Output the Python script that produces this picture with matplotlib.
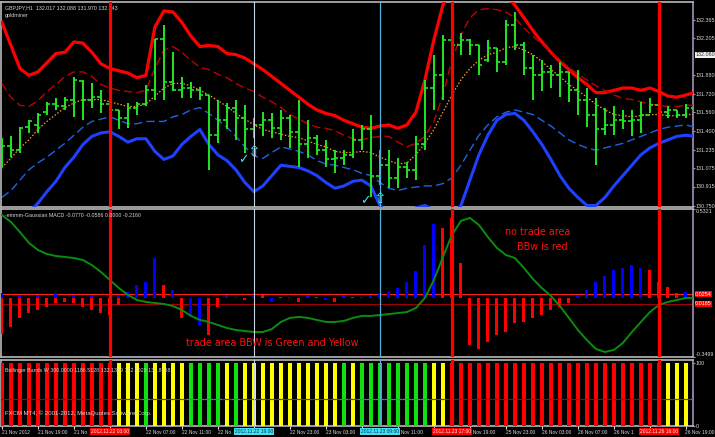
import matplotlib
matplotlib.use('Agg')
import matplotlib.pyplot as plt
import numpy as np

SMALL = ['Liberation Sans', 'DejaVu Sans']
plt.rcParams['font.family'] = SMALL

# ---------------- data ----------------
high = [131.34,131.35,131.43,131.49,131.55,131.65,131.68,131.69,131.87,131.84,
        131.81,131.75,131.71,131.58,131.64,131.65,131.80,132.20,132.32,132.08,
        131.87,131.82,131.78,131.71,131.67,131.64,131.67,131.62,131.51,131.56,
        131.55,131.58,131.54,131.67,131.49,131.36,131.32,131.23,131.23,131.41,
        131.45,131.54,131.23,131.23,131.16,131.13,131.35,131.84,132.06,132.23,
        132.27,132.25,132.20,132.14,132.19,132.12,132.36,132.43,132.17,132.06,
        132.01,131.97,132.00,131.91,131.93,131.77,131.68,131.60,131.61,131.58,
        131.58,131.65,131.68,131.65,131.61,131.58,131.63,131.67]
low = [131.08,131.17,131.21,131.38,131.38,131.54,131.58,131.58,131.52,131.49,
       131.60,131.55,131.54,131.41,131.42,131.54,131.61,131.67,131.67,131.74,
       131.68,131.68,131.67,131.06,131.29,131.41,131.32,131.21,131.34,131.35,
       131.34,131.32,131.25,131.08,131.16,131.19,131.08,131.03,131.10,131.16,
       131.23,130.82,130.93,130.90,130.90,130.99,130.97,131.23,131.58,131.67,
       132.01,132.06,132.06,131.88,132.00,131.91,131.97,132.10,131.88,131.67,
       131.74,131.77,131.69,131.65,131.54,131.43,131.10,131.36,131.36,131.41,
       131.35,131.38,131.55,131.48,131.51,131.51,131.51,131.42]
open_ = [131.16,131.27,131.23,131.43,131.45,131.56,131.63,131.61,131.67,131.83,
         131.67,131.69,131.63,131.58,131.51,131.60,131.63,131.75,132.20,131.82,
         131.75,131.77,131.75,131.71,131.36,131.49,131.60,131.51,131.41,131.45,
         131.49,131.42,131.51,131.39,131.28,131.34,131.23,131.15,131.16,131.19,
         131.32,131.41,131.01,131.10,130.99,131.08,131.06,131.28,131.77,131.88,
         132.19,132.14,132.19,132.14,132.01,132.12,132.00,132.32,132.14,131.94,
         131.88,131.91,131.88,131.91,131.75,131.67,131.54,131.41,131.45,131.49,
         131.48,131.49,131.54,131.62,131.56,131.58,131.54,131.60]
close = [131.27,131.23,131.42,131.48,131.54,131.63,131.61,131.67,131.84,131.67,
         131.69,131.63,131.58,131.51,131.60,131.63,131.75,132.20,131.82,131.75,
         131.77,131.75,131.71,131.36,131.49,131.60,131.51,131.41,131.45,131.49,
         131.42,131.51,131.39,131.28,131.34,131.23,131.15,131.16,131.19,131.32,
         131.41,131.01,131.10,130.99,131.08,131.06,131.28,131.77,131.88,132.19,
         132.14,132.19,132.14,131.97,132.12,132.00,132.32,132.14,131.94,131.88,
         131.91,131.88,131.91,131.75,131.67,131.54,131.41,131.45,131.49,131.48,
         131.49,131.54,131.62,131.56,131.58,131.54,131.60,131.54]

bb_upper_outer = [132.34,132.14,131.94,131.88,131.91,131.99,132.07,132.08,132.17,132.16,
                  132.08,131.98,131.94,131.92,131.90,131.86,131.88,132.30,132.44,132.43,
                  132.34,132.22,132.13,132.14,132.13,132.07,132.06,132.03,131.98,131.93,
                  131.87,131.81,131.75,131.69,131.63,131.58,131.55,131.53,131.49,131.46,
                  131.43,131.42,131.44,131.45,131.42,131.45,131.56,131.84,132.19,132.49,
                  132.71,132.79,132.79,132.71,132.62,132.58,132.58,132.49,132.38,132.27,
                  132.17,132.08,132.00,131.93,131.86,131.80,131.73,131.73,131.75,131.77,
                  131.77,131.75,131.77,131.74,131.70,131.69,131.71,131.73]
bb_upper_inner = [131.81,131.69,131.62,131.61,131.66,131.74,131.80,131.87,131.91,131.91,
                  131.87,131.80,131.77,131.75,131.74,131.73,131.75,131.94,132.10,132.13,
                  132.08,132.01,131.95,131.93,131.89,131.86,131.81,131.77,131.74,131.69,
                  131.65,131.60,131.54,131.50,131.46,131.43,131.42,131.40,131.36,131.33,
                  131.32,131.34,131.35,131.35,131.30,131.26,131.29,131.35,131.48,131.71,
                  132.01,132.23,132.38,132.45,132.46,132.45,132.43,132.38,132.29,132.22,
                  132.15,132.08,132.01,131.95,131.89,131.84,131.79,131.75,131.71,131.68,
                  131.67,131.65,131.63,131.62,131.61,131.61,131.62,131.62]
bb_middle = [131.08,131.16,131.25,131.32,131.41,131.48,131.54,131.60,131.64,131.67,
             131.67,131.67,131.65,131.63,131.61,131.61,131.63,131.70,131.77,131.81,
             131.81,131.79,131.75,131.71,131.66,131.61,131.55,131.50,131.45,131.41,
             131.39,131.37,131.35,131.34,131.31,131.28,131.26,131.22,131.21,131.21,
             131.22,131.21,131.17,131.14,131.11,131.12,131.19,131.29,131.41,131.56,
             131.71,131.84,131.94,132.01,132.06,132.08,132.12,132.13,132.10,132.06,
             132.00,131.93,131.87,131.80,131.75,131.69,131.63,131.58,131.54,131.53,
             131.52,131.53,131.54,131.54,131.53,131.53,131.54,131.54]
bb_lower_inner = [130.82,130.88,130.97,131.06,131.12,131.17,131.23,131.29,131.36,131.43,
                  131.48,131.50,131.52,131.49,131.46,131.46,131.48,131.48,131.48,131.52,
                  131.54,131.58,131.60,131.55,131.49,131.43,131.35,131.26,131.18,131.16,
                  131.21,131.26,131.24,131.22,131.19,131.14,131.11,131.10,131.08,131.06,
                  131.03,131.01,130.95,130.90,130.88,130.90,130.91,130.92,130.92,130.94,
                  130.99,131.10,131.23,131.36,131.45,131.52,131.56,131.58,131.56,131.54,
                  131.49,131.44,131.38,131.32,131.28,131.25,131.23,131.25,131.27,131.29,
                  131.32,131.35,131.38,131.41,131.43,131.44,131.45,131.43]
bb_lower_outer = [130.36,130.45,130.56,130.69,130.77,130.87,130.96,131.08,131.17,131.28,
                  131.35,131.38,131.39,131.35,131.30,131.33,131.33,131.22,131.15,131.18,
                  131.28,131.35,131.41,131.28,131.19,131.14,131.06,130.95,130.87,130.92,
                  131.01,131.10,131.09,131.08,131.05,131.01,130.95,130.90,130.92,130.96,
                  130.97,130.92,130.75,130.67,130.67,130.69,130.73,130.75,130.71,130.67,
                  130.67,130.75,130.97,131.19,131.36,131.49,131.54,131.55,131.49,131.39,
                  131.28,131.15,131.01,130.90,130.82,130.75,130.75,130.82,130.92,131.01,
                  131.10,131.19,131.25,131.29,131.32,131.35,131.36,131.35]

macd_blue = [0.03,0,0.02,0,0.02,0,0.03,0,0.02,0,
             0.02,0,0,0.02,0.04,0.08,0.10,0.24,0,0.05,
             0,-0.10,-0.16,0,0,0.02,0.01,0,0.02,0,
             -0.02,0,0.01,0,0.02,0,-0.01,0,0.02,0,
             0.01,0.02,0.03,0.04,0.06,0.10,0.16,0.32,0.44,0,
             0,0,0,0,0,0,0,0,0,0,
             0,0,0,0,0.02,0.05,0.10,0.13,0.17,0.18,
             0.20,0.18,0,0,0,0,0.04,0.02]
macd_red = [-0.21,-0.17,-0.12,-0.09,-0.07,-0.05,-0.03,-0.02,-0.03,-0.05,
            -0.07,-0.09,-0.10,-0.04,0,0,0,0,0.08,0,
            -0.12,0,0,-0.22,-0.05,0,0,-0.01,0,0.02,
            0,0.01,0,-0.02,0,0.01,0,-0.02,0,0.01,
            0,0,0,0,0,0,0,0,0,0.42,
            0.48,0.21,-0.28,-0.30,-0.26,-0.22,-0.20,-0.15,-0.14,-0.12,
            -0.10,-0.07,-0.05,-0.03,0,0,0,0,0,0,
            0,0,0.17,0.10,0.07,0.03,0,0]
macd_signal = [0.496,0.455,0.395,0.330,0.288,0.264,0.252,0.246,0.240,0.228,
               0.198,0.157,0.109,0.061,0.020,-0.010,-0.022,-0.028,-0.034,-0.046,
               -0.070,-0.105,-0.129,-0.141,-0.159,-0.177,-0.189,-0.195,-0.201,-0.201,
               -0.183,-0.141,-0.117,-0.111,-0.117,-0.129,-0.141,-0.141,-0.135,-0.117,
               -0.105,-0.105,-0.100,-0.094,-0.088,-0.082,-0.058,0.002,0.109,0.246,
               0.377,0.461,0.479,0.437,0.365,0.300,0.258,0.240,0.181,0.115,
               0.061,0.014,-0.046,-0.117,-0.189,-0.249,-0.302,-0.320,-0.308,-0.266,
               -0.201,-0.141,-0.082,-0.040,-0.022,-0.010,0.002,0.002]

bbw_state = list("RRRRRRRRRRRRR" "YYY" "G" "YYYY" "GGGG" "Y" "G" "YYYYYYYYYYY" "G" "Y"
                 "GGGGGGGG" "YY" "RRRRRRRRRRRRRRRRRRRRRRRR" "YYY" "G")
bbw_value = [100] * len(bbw_state)
bbw_mid = 43

# time axis: labels as they remain visible next to the marker boxes
time_idx = [0, 4, 8, 12, 16, 20, 24, 28, 32, 36, 40, 44, 48, 52, 56, 60, 64, 68, 72, 76]
time_lbl = ["21 Nov 2012", "21 Nov 19:00", "21 No", "", "22 Nov 07:00",
            "22 Nov 11:00", "22 No", "", "22 Nov 23:00", "23 Nov 03:00",
            "", "  Nov 11:00", "", "  Nov 19:00", "25 Nov 23:00",
            "26 Nov 03:00", "26 Nov 07:00", "26 Nov 1", "", ""]
last_time_lbl = "26 Nov 19:00"

red_vlines = [12, 50, 73]
red_vline_lbl = ["2012.11.22 03:00", "2012.11.23 17:00", "2012.11.26 16:00"]
cyan_vlines = [28, 42]
cyan_vline_lbl = ["2012.11.22 19:00", "2012.11.23 09:00"]

price_ticks = [132.365, 132.205, 131.880, 131.720, 131.560, 131.400, 131.235, 131.075, 130.915, 130.750]
price_now = 132.060
macd_ticks = [0.5321, -0.3499]
macd_levels = [0.0254, -0.0340]
macd_level_lbl = ["0.0254", "0.0185"]

check_idx = [26.8, 40.4]
check_price = [131.15, 130.79]
arrow_idx = [28.0, 42.0]
arrow_price = [131.22, 130.81]

# ---------------- figure ----------------
W, H = 715, 437
fig = plt.figure(figsize=(W / 100, H / 100), dpi=100, facecolor='black')

def rect(l, t, r, b):
    return [l / W, 1 - b / H, (r - l) / W, (b - t) / H]

RIGHT = 693
ax1 = fig.add_axes(rect(1, 2, RIGHT, 207))
ax2 = fig.add_axes(rect(1, 209, RIGHT, 357))
ax3 = fig.add_axes(rect(1, 360, RIGHT, 426))
idx = np.arange(len(high))
XL = (-0.1, -0.1 + (RIGHT - 1) / 9.0)
GRAY = '#b8b8b8'
TXT = '#d8d8d8'
FS = 3.9
FT = 3.5
FH = 3.8

for ax in (ax1, ax2, ax3):
    ax.set_facecolor('black')
    ax.set_xlim(*XL)
    for s in ax.spines.values():
        s.set_color(GRAY)
        s.set_linewidth(1.2)
    ax.spines['right'].set_color('#a890b8')
    ax.yaxis.tick_right()
    ax.tick_params(axis='y', colors=TXT, labelsize=FS, length=1.2, width=0.8, pad=0.5)
    ax.tick_params(axis='y', which='major', color='#a890b8')
    for xv in red_vlines:
        ax.axvline(xv, color='#ff0000', lw=2.3, zorder=6)
    ax.axvline(cyan_vlines[0], color='#c8d4e0', lw=0.8, zorder=6)
    ax.axvline(cyan_vlines[1], color='#50b0d8', lw=0.9, zorder=6)

ax1.set_xticks([]); ax2.set_xticks([])

# ---- main price panel ----
ax1.set_ylim(130.737, 132.517)
ax1.plot(idx, bb_upper_outer, color='#ff0000', lw=2.3, zorder=3, solid_joinstyle='round')
ax1.plot(idx, bb_upper_inner, color='#c00000', lw=1.0, ls=(0, (6, 3)), zorder=3)
ax1.plot(idx, bb_middle, color='#ff9a30', lw=0.9, ls=(0, (1.2, 1.5)), zorder=3)
ax1.plot(idx, bb_lower_inner, color='#1e64e0', lw=1.0, ls=(0, (6, 3)), zorder=3)
ax1.plot(idx, bb_lower_outer, color='#2040ff', lw=2.2, zorder=3, solid_joinstyle='round')
GREEN = '#22e622'
ax1.vlines(idx, low, high, color=GREEN, lw=1.4, zorder=4)
ax1.hlines(open_, idx - 0.38, idx, color=GREEN, lw=1.2, zorder=4)
ax1.hlines(close, idx, idx + 0.38, color=GREEN, lw=1.2, zorder=4)
for xi, yi in zip(check_idx, check_price):
    ax1.text(xi, yi, '\u2713', color='#40e8f0', fontsize=9, ha='center', va='center',
             family='DejaVu Sans', fontweight='bold', zorder=7)
for xi, yi in zip(arrow_idx, arrow_price):
    ax1.text(xi, yi, '\u21e7', color='#40e8f0', fontsize=11, ha='center', va='center',
             family='DejaVu Sans', zorder=7)
ax1.set_yticks(price_ticks)
ax1.set_yticklabels([f'{v:.3f}' for v in price_ticks])
ax1.text(1.003, price_now, f'{price_now:.3f}', transform=ax1.get_yaxis_transform(),
         fontsize=FS, color='#303030', ha='left', va='center', clip_on=False,
         bbox=dict(boxstyle='square,pad=0.1', fc='#f0f0f0', ec='none'))
ax1.text(0.006, 0.985, 'GBPJPY,H1  132.017 132.088 131.970 132.043', transform=ax1.transAxes,
         fontsize=FH, color=TXT, va='top', ha='left')
ax1.text(0.006, 0.948, 'goldminer', transform=ax1.transAxes,
         fontsize=FH, color=TXT, va='top', ha='left')

# ---- MACD panel ----
ax2.set_ylim(macd_ticks[1], macd_ticks[0])
ax2.bar(idx, macd_blue, width=0.33, color='#0000ff', zorder=3)
ax2.bar(idx, macd_red, width=0.33, color='#ff0000', zorder=3)
ax2.axhline(macd_levels[0], color='#ff2020', lw=0.8, zorder=2)
ax2.axhline(macd_levels[1], color='#a00000', lw=0.8, zorder=2)
ax2.plot(idx, macd_signal, color='#0c8c0c', lw=1.4, zorder=4)
ax2.set_yticks(macd_ticks)
ax2.set_yticklabels([f'{v:.4f}' for v in macd_ticks])
tl = ax2.get_yticklabels()
tl[0].set_va('top'); tl[1].set_va('bottom')
for v, s in zip(macd_levels, macd_level_lbl):
    ax2.text(1.003, v, s, transform=ax2.get_yaxis_transform(), fontsize=FS, color='white',
             ha='left', va='center', clip_on=False,
             bbox=dict(boxstyle='square,pad=0.1', fc='#ff0000', ec='none'))
ax2.text(0.006, 0.975, '-emmm-Gaussian MACD -0.0770 -0.0586 0.0000 -0.2160', transform=ax2.transAxes,
         fontsize=FH, color=TXT, va='top', ha='left', zorder=8)
ax2.text(59.5, 0.395, 'no trade area', color='#ff1010', fontsize=6.9, ha='center', va='center',
         family='DejaVu Sans', zorder=8)
ax2.text(60.0, 0.306, 'BBw is red', color='#ff1010', fontsize=6.9, ha='center', va='center',
         family='DejaVu Sans', zorder=8)
ax2.text(30.0, -0.266, 'trade area BBW is Green and Yellow', color='#ff1010', fontsize=6.9,
         ha='center', va='center', family='DejaVu Sans', zorder=8)

# ---- BBW panel ----
cmap = {'R': '#ff0000', 'Y': '#ffff00', 'G': '#10e010'}
midc = {'R': '#8a1010', 'Y': '#8a3a10', 'G': '#1a9a9a'}
ax3.set_ylim(0, 104)
ax3.bar(idx, bbw_value, width=0.45, color=[cmap[s] for s in bbw_state], zorder=3)
ax3.hlines([bbw_mid] * len(idx), idx - 0.5, idx + 0.5, colors=[midc[s] for s in bbw_state],
           lw=0.9, zorder=4)
ax3.set_yticks([100, 0])
ax3.set_yticklabels(['100', '0'])
ax3.text(0.006, 0.88, 'Bollinger Bands W 300.0000 1186.5128 132.1399 132.7920 131.8658',
         transform=ax3.transAxes, fontsize=FH, color=TXT, va='top', ha='left', zorder=8)
ax3.text(0.006, 0.2, 'FXCM MT4, \u00a9 2001-2012, MetaQuotes Software Corp.',
         transform=ax3.transAxes, fontsize=4.3, color=TXT, va='center', ha='left', zorder=8)
ax3.set_xticks(time_idx)
ax3.set_xticklabels(time_lbl)
ax3.tick_params(axis='x', colors=TXT, labelsize=FT, length=2, width=0.8, pad=1.2)
for lb in ax3.get_xticklabels():
    lb.set_ha('left')
fig.text(714 / W, 1 - 432 / H, last_time_lbl, fontsize=FT, color=TXT, ha='right', va='center')
for xv, s in zip(red_vlines, red_vline_lbl):
    ax3.text(xv, -0.05, s, transform=ax3.get_xaxis_transform(), fontsize=FT, color='#f0f0f0',
             ha='center', va='top', clip_on=False, zorder=10,
             bbox=dict(boxstyle='square,pad=0.2', fc='#ff0000', ec='none'))
for xv, s in zip(cyan_vlines, cyan_vline_lbl):
    ax3.text(xv, -0.05, s, transform=ax3.get_xaxis_transform(), fontsize=FT, color='#10305a',
             ha='center', va='top', clip_on=False, zorder=10,
             bbox=dict(boxstyle='square,pad=0.2', fc='#40e0f0', ec='none'))

fig.savefig('out.png', dpi=100, facecolor='black')
